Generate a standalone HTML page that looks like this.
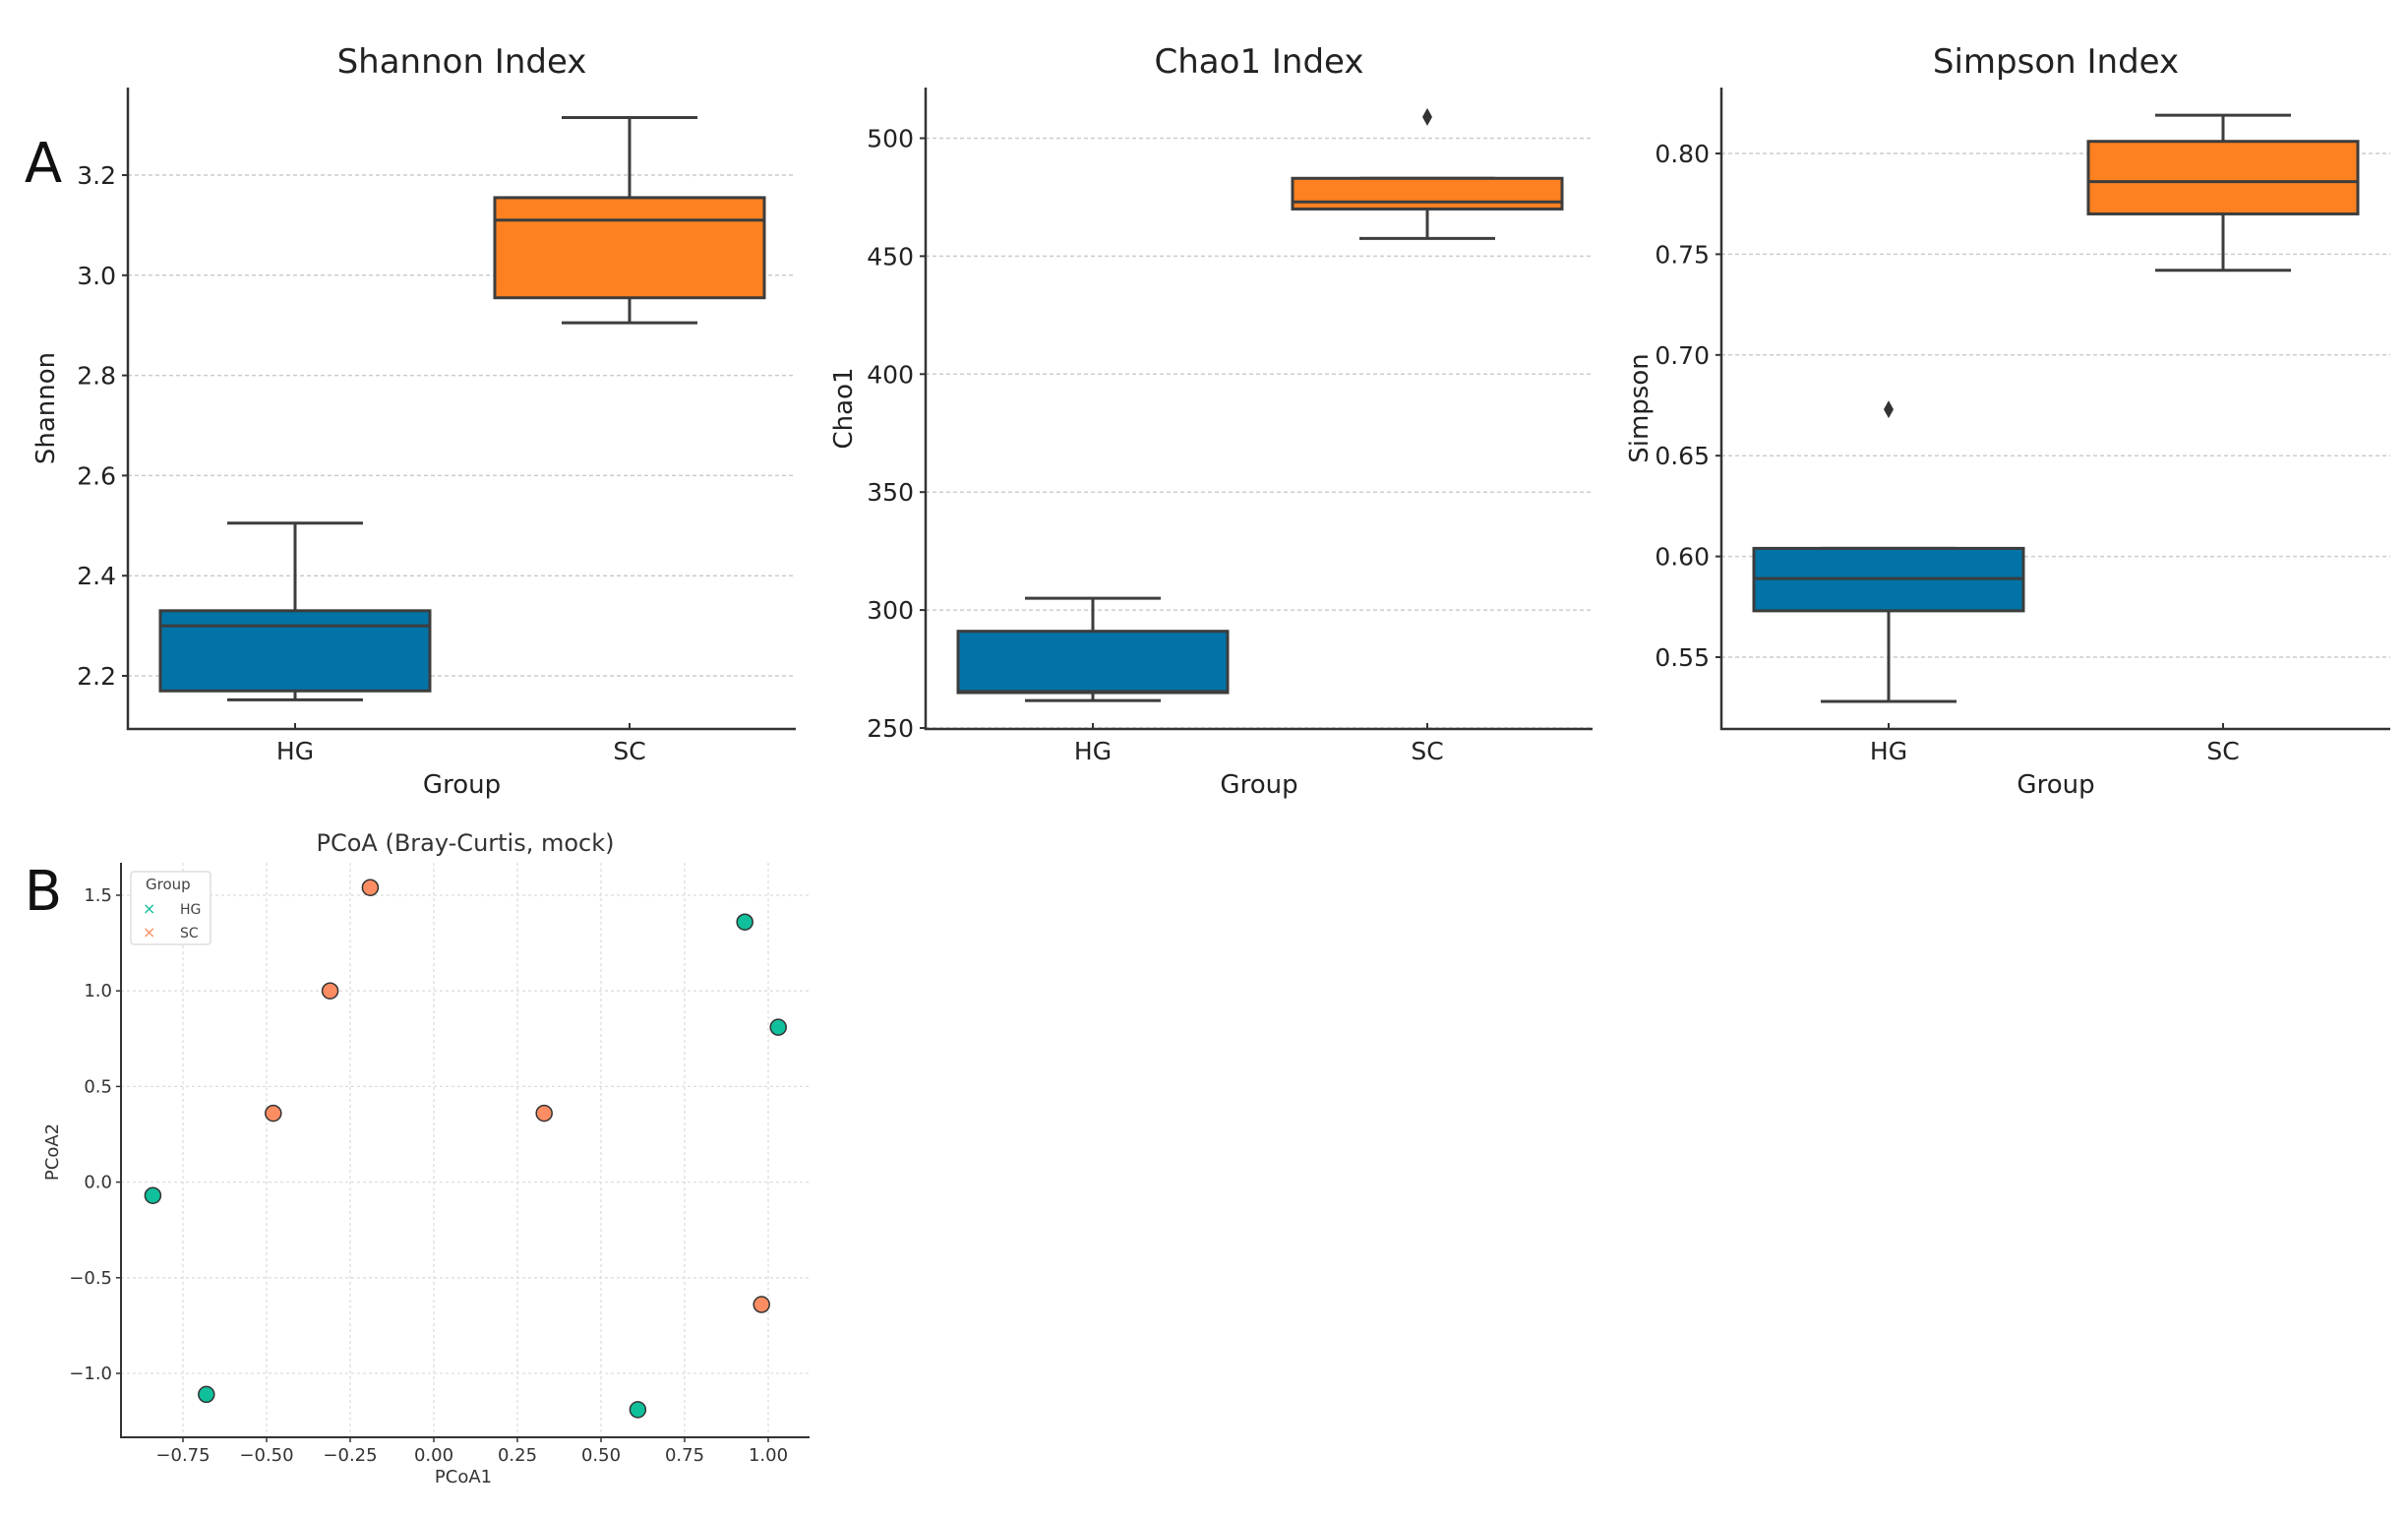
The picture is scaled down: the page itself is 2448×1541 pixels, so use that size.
<!DOCTYPE html>
<html><head><meta charset="utf-8"><style>
html,body{margin:0;padding:0;background:#fff;}
svg{display:block;font-family:"DejaVu Sans","Liberation Sans",sans-serif;}
</style></head><body>
<svg id="fig" width="2448" height="1541" viewBox="0 0 2448 1541" xmlns="http://www.w3.org/2000/svg">
<text x="44" y="185" font-size="56" fill="#111" text-anchor="middle">A</text>
<text x="44" y="925" font-size="56" fill="#111" text-anchor="middle">B</text>
</svg>
<script>
const groups = ["HG","SC"];
const shannonStats = [[2.152,2.17,2.30,2.33,2.505],[2.905,2.955,3.11,3.155,3.315]];
const shannonOutliers = [[],[]];
const shannonTicks = [2.2,2.4,2.6,2.8,3.0,3.2];
const shannonTickLabels = ["2.2","2.4","2.6","2.8","3.0","3.2"];
const chaoStats = [[261.6,265,265.5,291,305],[457.5,470,473,483,483]];
const chaoOutliers = [[],[509]];
const chaoTicks = [250,300,350,400,450,500];
const chaoTickLabels = ["250","300","350","400","450","500"];
const simpsonStats = [[0.528,0.573,0.589,0.604,0.604],[0.742,0.770,0.786,0.806,0.819]];
const simpsonOutliers = [[0.673],[]];
const simpsonTicks = [0.55,0.60,0.65,0.70,0.75,0.80];
const simpsonTickLabels = ["0.55","0.60","0.65","0.70","0.75","0.80"];
const hgX = [-0.84,-0.68,0.61,0.93,1.03];
const hgY = [-0.07,-1.11,-1.19,1.36,0.81];
const scX = [-0.48,-0.31,-0.19,0.33,0.98];
const scY = [0.36,1.00,1.54,0.36,-0.64];
const pcoaXTicks = [-0.75,-0.5,-0.25,0,0.25,0.5,0.75,1.0];
const pcoaXTickLabels = ["\u22120.75","\u22120.50","\u22120.25","0.00","0.25","0.50","0.75","1.00"];
const pcoaYTicks = [-1.0,-0.5,0,0.5,1.0,1.5];
const pcoaYTickLabels = ["\u22121.0","\u22120.5","0.0","0.5","1.0","1.5"];

const svg = document.getElementById('fig');
const NS = "http://www.w3.org/2000/svg";
function mk(tag, attrs, parent){
  const e = document.createElementNS(NS, tag);
  for (const k in attrs) e.setAttribute(k, attrs[k]);
  (parent||svg).appendChild(e);
  return e;
}
const colors = ["#0173a6","#fd8120"];

function boxPanel(cfg){
  const g = mk('g',{});
  
  
  const yScale = v => cfg.y0px + (v - cfg.v0) * (cfg.y1px - cfg.y0px) / (cfg.v1 - cfg.v0);
  const xPos = [cfg.left + 170, cfg.left + 510];
  // grid + ticks
  cfg.ticks.forEach((t,i)=>{
    const y = yScale(t);
    const gl = mk('line',{x1:cfg.left,x2:cfg.right,y1:y,y2:y,stroke:'#ccc','stroke-width':1.5,'stroke-dasharray':'4,3'},g);
    
    
    mk('line',{x1:cfg.left-6,x2:cfg.left,y1:y,y2:y,stroke:'#333','stroke-width':2},g);
    const tl = mk('text',{x:cfg.left-12,y:y+9,'font-size':25,'text-anchor':'end',fill:'#222'},g);
    tl.textContent = cfg.labels[i];
    
    
  });
  // boxes
  cfg.stats.forEach((s,i)=>{
    const x = xPos[i];
    const bg = mk('g',{},g);
    
    
    const c = '#3d3d3d';
    mk('line',{x1:x,x2:x,y1:yScale(s[0]),y2:yScale(s[1]),stroke:c,'stroke-width':3},bg);
    mk('line',{x1:x,x2:x,y1:yScale(s[3]),y2:yScale(s[4]),stroke:c,'stroke-width':3},bg);
    mk('line',{x1:x-69,x2:x+69,y1:yScale(s[0]),y2:yScale(s[0]),stroke:c,'stroke-width':3},bg);
    mk('line',{x1:x-69,x2:x+69,y1:yScale(s[4]),y2:yScale(s[4]),stroke:c,'stroke-width':3},bg);
    mk('rect',{x:x-137,y:yScale(s[3]),width:274,height:yScale(s[1])-yScale(s[3]),fill:colors[i],stroke:c,'stroke-width':3},bg);
    mk('line',{x1:x-137,x2:x+137,y1:yScale(s[2]),y2:yScale(s[2]),stroke:c,'stroke-width':3},bg);
    cfg.outliers[i].forEach(o=>{
      const y = yScale(o);
      const d = mk('path',{d:`M${x},${y-9} L${x+5},${y} L${x},${y+9} L${x-5},${y} Z`,fill:'#333'},bg);
      
      
    });
    mk('line',{x1:x,x2:x,y1:cfg.bottom,y2:cfg.bottom-6,stroke:'#333','stroke-width':2},g);
    const xl = mk('text',{x:x,y:cfg.bottom+31,'font-size':25,'text-anchor':'middle',fill:'#222'},g);
    xl.textContent = groups[i];
    
    
  });
  const ax = mk('path',{d:`M${cfg.left},${cfg.top} L${cfg.left},${cfg.bottom} L${cfg.right},${cfg.bottom}`,fill:'none',stroke:'#333','stroke-width':2.5},g);
  
  
  const mid = (cfg.left+cfg.right)/2;
  const tt = mk('text',{x:mid,y:74,'font-size':34,'text-anchor':'middle',fill:'#222'},g);
  tt.textContent = cfg.title;
  
  
  const xt = mk('text',{x:mid,y:806,'font-size':26,'text-anchor':'middle',fill:'#222'},g);
  xt.textContent = 'Group';
  
  
  const yt = mk('text',{x:0,y:0,'font-size':26,'text-anchor':'middle',fill:'#222',transform:`translate(${cfg.left-75},${(cfg.top+cfg.bottom)/2}) rotate(-90)`},g);
  yt.textContent = cfg.ylabel;
  
  
}

boxPanel({name:'shannon-panel',title:'Shannon Index',ylabel:'Shannon',left:130,right:809,top:89,bottom:741,
  v0:2.2,v1:3.2,y0px:687,y1px:178,ticks:shannonTicks,labels:shannonTickLabels,stats:shannonStats,outliers:shannonOutliers});
boxPanel({name:'chao1-panel',title:'Chao1 Index',ylabel:'Chao1',left:941,right:1619,top:89,bottom:741,
  v0:250,v1:500,y0px:740,y1px:140.5,ticks:chaoTicks,labels:chaoTickLabels,stats:chaoStats,outliers:chaoOutliers});
boxPanel({name:'simpson-panel',title:'Simpson Index',ylabel:'Simpson',left:1750,right:2430,top:89,bottom:741,
  v0:0.55,v1:0.80,y0px:668,y1px:156,ticks:simpsonTicks,labels:simpsonTickLabels,stats:simpsonStats,outliers:simpsonOutliers});

// PCoA
(function(){
  const g = mk('g',{});
  
  
  const L=123,R=823,T=877,B=1461;
  const xs = v => 441 + v*340;
  const ys = v => 1201.6 - v*194.4;
  pcoaXTicks.forEach((t,i)=>{
    const x = xs(t);
    mk('line',{x1:x,x2:x,y1:T,y2:B,stroke:'#ddd','stroke-width':1.3,'stroke-dasharray':'3,3'},g);
    mk('line',{x1:x,x2:x,y1:B,y2:B+5,stroke:'#333','stroke-width':1.5},g);
    const tl = mk('text',{x:x,y:B+24,'font-size':18,'text-anchor':'middle',fill:'#333'},g);
    tl.textContent = pcoaXTickLabels[i];
    
    
  });
  pcoaYTicks.forEach((t,i)=>{
    const y = ys(t);
    mk('line',{x1:L,x2:R,y1:y,y2:y,stroke:'#ddd','stroke-width':1.3,'stroke-dasharray':'3,3'},g);
    mk('line',{x1:L-5,x2:L,y1:y,y2:y,stroke:'#333','stroke-width':1.5},g);
    const tl = mk('text',{x:L-9,y:y+6,'font-size':18,'text-anchor':'end',fill:'#333'},g);
    tl.textContent = pcoaYTickLabels[i];
    
    
  });
  const ax = mk('path',{d:`M${L},${T} L${L},${B} L${R},${B}`,fill:'none',stroke:'#333','stroke-width':2},g);
  
  
  function pts(X,Y,col,name){
    X.forEach((v,i)=>{
      const c = mk('circle',{cx:xs(v),cy:ys(Y[i]),r:8,fill:col,stroke:'#333','stroke-width':1.5},g);
      
      
    });
  }
  pts(hgX,hgY,'#10bf9b','point-hg');
  pts(scX,scY,'#fc8d62','point-sc');
  const t = mk('text',{x:473,y:865,'font-size':24,'text-anchor':'middle',fill:'#333'},g);
  t.textContent='PCoA (Bray-Curtis, mock)';
  
  
  const xt = mk('text',{x:471,y:1507,'font-size':18,'text-anchor':'middle',fill:'#333'},g);
  xt.textContent='PCoA1';
  
  
  const yt = mk('text',{x:0,y:0,'font-size':18,'text-anchor':'middle',fill:'#333',transform:'translate(59,1171) rotate(-90)'},g);
  yt.textContent='PCoA2';
  
  
  const lg = mk('g',{},g);
  
  
  mk('rect',{x:133,y:886,width:81,height:74,fill:'#fff',stroke:'#ddd','stroke-width':1.5,rx:3},lg);
  const lt = mk('text',{x:148,y:904,'font-size':15,fill:'#444'},lg); lt.textContent='Group';
  const e1 = mk('text',{x:145,y:929,'font-size':16,fill:'#10bf9b'},lg); e1.textContent='\u00d7';
  const l1 = mk('text',{x:183,y:929,'font-size':14,fill:'#444'},lg); l1.textContent='HG';
  
  
  const e2 = mk('text',{x:145,y:953,'font-size':16,fill:'#fc8d62'},lg); e2.textContent='\u00d7';
  const l2 = mk('text',{x:183,y:953,'font-size':14,fill:'#444'},lg); l2.textContent='SC';
  
  
})();
</script>
</body></html>
